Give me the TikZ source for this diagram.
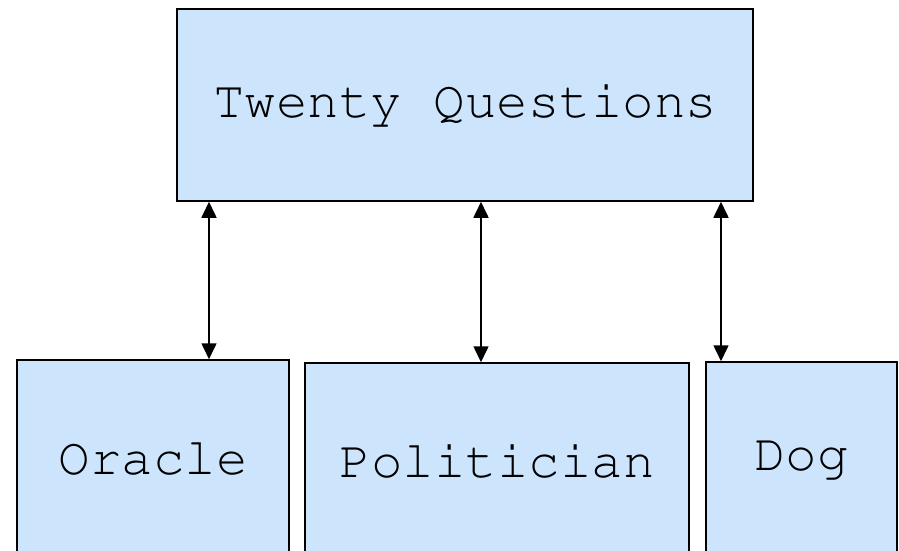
\documentclass[tikz,border=0pt]{standalone}
\usepackage[T1]{fontenc}
\usepackage{courier}
\usetikzlibrary{arrows.meta, positioning}

\begin{document}
\begin{tikzpicture}[x=1pt,y=-1pt,
  box/.style={draw=black,line width=1.5pt,fill=boxblue,rectangle,inner sep=0pt,
    font=\ttfamily\fontsize{52.5}{60}\selectfont},
  link/.style={{Triangle[length=16pt,width=15pt]}-{Triangle[length=16pt,width=15pt]},line width=1.6pt}]
\definecolor{boxblue}{RGB}{204,228,252}
\useasboundingbox (0,0) rectangle (899,551);
\clip (0,0) rectangle (899,551);
% game box
\node[box,minimum width=576pt,minimum height=192pt] (game) at (465,105) {Twenty Questions};
% players
\node[box,minimum width=272pt,minimum height=196pt] (oracle) at (153,458) {Oracle};
\node[box,minimum width=384pt,minimum height=196pt] (politician) at (497,461) {Politician};
\node[box,minimum width=191pt,minimum height=196pt] (dog) at (801.5,460) {Dog};
% links
\draw[link] (game.south -| 209,0) -- (oracle.north -| 209,0);
\draw[link] (game.south -| 481,0) -- (politician.north -| 481,0);
\draw[link] (game.south -| 721,0) -- (dog.north -| 721,0);
\end{tikzpicture}
\end{document}
